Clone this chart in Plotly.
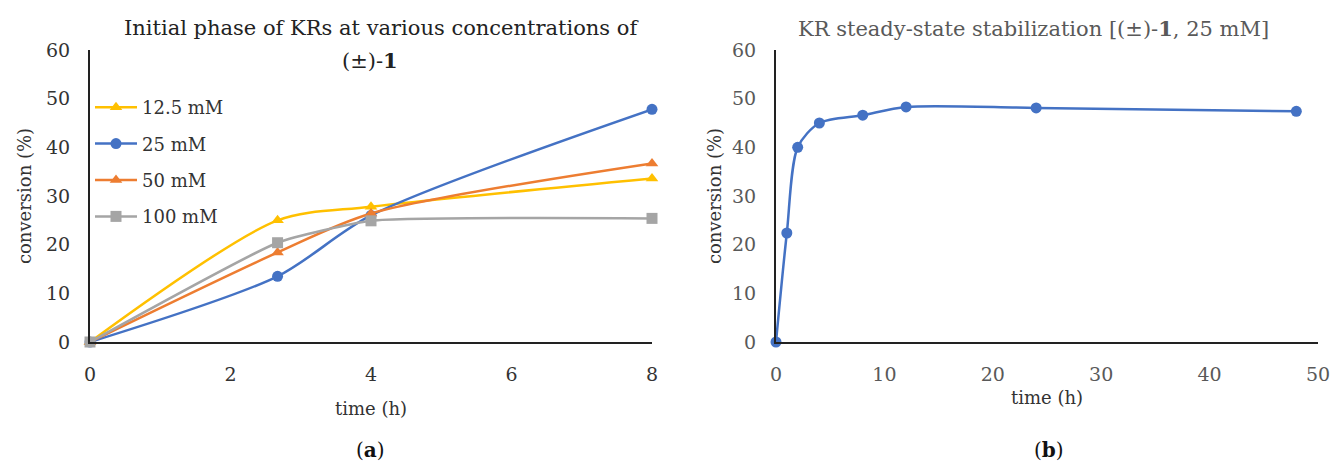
import plotly.graph_objects as go

# ---- Data: panel (a) ----
time_a = [0, 2.67, 4, 8]
conv_125 = [0, 25.0, 27.8, 33.6]
conv_25 = [0, 13.5, 26.0, 47.8]
conv_50 = [0, 18.4, 26.4, 36.7]
conv_100 = [0, 20.4, 24.9, 25.4]
series_names = ["12.5 mM", "25 mM", "50 mM", "100 mM"]
series_values = [conv_125, conv_25, conv_50, conv_100]
series_colors = ["#FFC000", "#4472C4", "#ED7D31", "#A5A5A5"]
series_symbols = ["triangle-up", "circle", "triangle-up", "square"]
series_smoothing = [0.8, 0.8, 0.8, 0.45]

# ---- Data: panel (b) ----
time_b = [0, 1, 2, 4, 8, 12, 24, 48]
conv_b = [0, 22.4, 40.0, 45.0, 46.6, 48.3, 48.1, 47.4]

ticks_a = [0, 2, 4, 6, 8]
ticks_b = [0, 10, 20, 30, 40, 50]
ticks_y = [0, 10, 20, 30, 40, 50, 60]

W, H = 1332, 467
FONT = "DejaVu Serif"

def px_x(p):
    return p / W

def px_y(p):
    return 1 - p / H

fig = go.Figure()

for i, (name, vals, col, sym, sm) in enumerate(zip(series_names, series_values, series_colors,
                                                   series_symbols, series_smoothing)):
    fig.add_trace(go.Scatter(
        x=time_a, y=vals, name=name, mode="lines+markers",
        line=dict(color=col, width=2.5, shape="spline", smoothing=sm),
        marker=dict(symbol=sym, size=11, color=col),
        xaxis="x", yaxis="y", cliponaxis=False,
        legendgroup=f"g{i}",
    ))

fig.add_trace(go.Scatter(
    x=time_b, y=conv_b, name="25 mM (b)", mode="lines+markers",
    line=dict(color="#4472C4", width=2.5, shape="spline", smoothing=0.8),
    marker=dict(symbol="circle", size=11, color="#4472C4"),
    xaxis="x2", yaxis="y2", cliponaxis=False, showlegend=False,
))

dark = "#333333"
grey = "#595959"
ydom = [px_y(342), px_y(50)]

common_axis = dict(
    showgrid=False, zeroline=False, showline=True, linecolor="#222222", linewidth=2,
    ticks="outside", ticklen=14, tickcolor="rgba(0,0,0,0)", automargin=False,
)

fig.update_layout(
    width=W, height=H,
    margin=dict(l=0, r=0, t=0, b=0),
    paper_bgcolor="white", plot_bgcolor="white",
    font=dict(family=FONT, size=18, color=dark),
    xaxis=dict(domain=[px_x(90), px_x(652)], range=[0, 8], tickvals=ticks_a,
               anchor="y", tickfont=dict(size=19, color=dark),
               title=dict(text="time (h)", font=dict(size=18, color=dark), standoff=19),
               **common_axis),
    yaxis=dict(domain=ydom, range=[0, 60], tickvals=ticks_y, anchor="x",
               tickfont=dict(size=19, color=dark),
               title=dict(text="conversion (%)", font=dict(size=18, color=dark), standoff=10),
               **common_axis),
    xaxis2=dict(domain=[px_x(776), px_x(1318)], range=[0, 50], tickvals=ticks_b,
                anchor="y2", tickfont=dict(size=19, color=grey),
                title=dict(text="time (h)", font=dict(size=18, color=dark), standoff=8),
                **common_axis),
    yaxis2=dict(domain=ydom, range=[0, 60], tickvals=ticks_y, anchor="x2",
                tickfont=dict(size=19, color=grey),
                title=dict(text="conversion (%)", font=dict(size=18, color=dark), standoff=6),
                **common_axis),
    legend=dict(x=px_x(90), y=px_y(89), xanchor="left", yanchor="top",
                bgcolor="rgba(0,0,0,0)", font=dict(size=18, color=dark),
                itemwidth=42, tracegroupgap=10, traceorder="grouped"),
    showlegend=True,
)

annotations = [
    dict(text="Initial phase of KRs at various concentrations of", x=px_x(381), y=px_y(28),
         font=dict(size=21, color="#222222")),
    dict(text="(±)-<b>1</b>", x=px_x(370), y=px_y(61), font=dict(size=21, color="#222222")),
    dict(text="KR steady-state stabilization [(±)-<b>1</b>, 25 mM]", x=px_x(1033), y=px_y(28),
         font=dict(size=21, color=grey)),
    dict(text="(<b>a</b>)", x=px_x(370), y=px_y(450), font=dict(size=20, color="#111111")),
    dict(text="(<b>b</b>)", x=px_x(1049), y=px_y(450), font=dict(size=20, color="#111111")),
]
for a in annotations:
    a.update(xref="paper", yref="paper", showarrow=False, xanchor="center", yanchor="middle")
fig.update_layout(annotations=annotations)

# remove the default 8px page margin so the 1332x467 figure fills the window exactly
fig.write_html("out.html", config={"displayModeBar": False},
               post_script="document.body.style.margin='0';")
